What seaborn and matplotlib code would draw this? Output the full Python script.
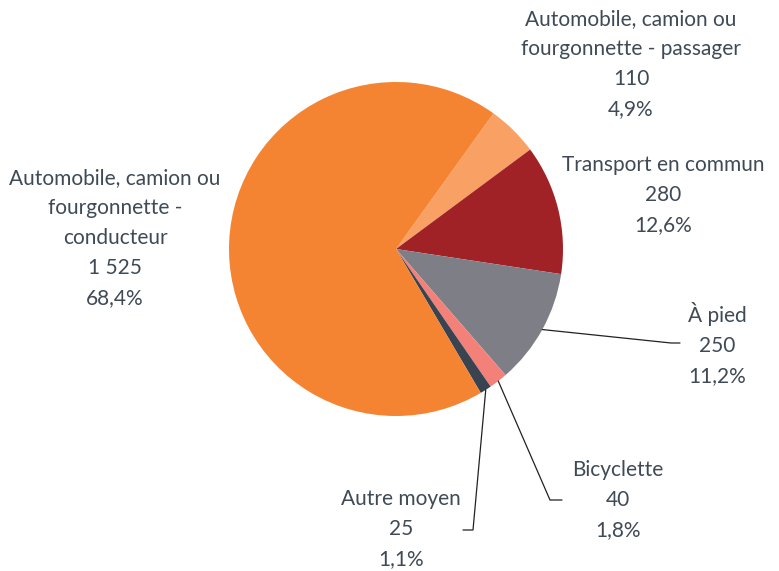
import matplotlib
matplotlib.use("Agg")
import matplotlib.pyplot as plt
import seaborn as sns
import numpy as np

# ---- data ----
categories = [
    "Automobile, camion ou\nfourgonnette - passager",
    "Transport en commun",
    "À pied",
    "Bicyclette",
    "Autre moyen",
    "Automobile, camion ou\nfourgonnette -\nconducteur",
]
values = [110, 280, 250, 40, 25, 1525]
value_labels = ["110", "280", "250", "40", "25", "1 525"]
colors_hex = ["#F9A065", "#A02226", "#7E7F86", "#F3817A", "#3A4350", "#F58432"]

sns.set_theme(style="white")
plt.rcParams["font.family"] = ["Lato", "DejaVu Sans"]

W, H = 779, 571
CX, CY, R = 396, 249, 167
fig = plt.figure(figsize=(W / 100, H / 100), dpi=100)
ax = fig.add_axes([0, 0, 1, 1])
palette = sns.color_palette(colors_hex)

wedges, _ = ax.pie(values, colors=palette, startangle=54.3, counterclock=False,
                   radius=1, center=(0, 0), wedgeprops=dict(linewidth=0))
ax.set_xlim(-CX / R, (W - CX) / R)
ax.set_ylim(-(H - CY) / R, CY / R)
ax.set_aspect("equal")
ax.axis("off")


def px(x, y):
    return (x - CX) / R, (CY - y) / R


total = sum(values)
pcts = [f"{100 * v / total:.1f}".replace(".", ",") + "%" for v in values]

txt_color = "#3F4A56"
# label centre positions (pixels)
label_pos = [(631, 64), (663, 195), (717, 344), (618, 500), (401, 529), (115, 238)]
for cat, vl, pc, (lx, ly) in zip(categories, value_labels, pcts, label_pos):
    x, y = px(lx, ly)
    ax.text(x, y, f"{cat}\n{vl}\n{pc}", ha="center", va="center",
            fontsize=15, color=txt_color, linespacing=1.62)

# leader lines: (index, elbow pixel, end pixel)
leaders = [(2, (671, 343), (680, 343)), (3, (550, 500), (562, 500)),
           (4, (473, 530), (463, 530))]
for i, elbow, end in leaders:
    w = wedges[i]
    mid = np.deg2rad((w.theta1 + w.theta2) / 2)
    sx, sy = np.cos(mid), np.sin(mid)
    ex, ey = px(*elbow)
    fx, fy = px(*end)
    ax.plot([sx, ex, fx], [sy, ey, fy], color="#222222", lw=0.9,
            solid_joinstyle="miter")

fig.savefig("out.png", dpi=100)
